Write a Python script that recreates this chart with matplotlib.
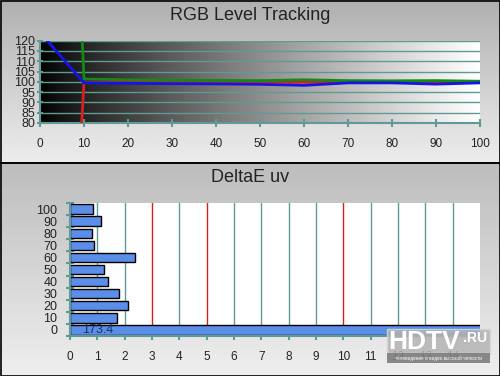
"""RGB level tracking and DeltaE uv panels."""

import matplotlib

matplotlib.use("Agg")
import matplotlib.pyplot as plt  # noqa: E402
import numpy as np  # noqa: E402
from matplotlib.patches import Rectangle  # noqa: E402

plt.rcParams["font.family"] = ["Liberation Sans", "DejaVu Sans"]

# --- data -----------------------------------------------------------------
levels = [0, 10, 20, 30, 40, 50, 60, 70, 80, 90, 100]
red = [-280, 99.6, 100.0, 100.1, 100.0, 99.9, 99.8, 99.8, 99.8, 99.7, 99.8]
green = [575, 101.4, 101.0, 100.8, 100.7, 100.6, 101.0, 100.6, 100.5, 100.6, 100.3]
blue = [124, 99.5, 99.3, 99.1, 99.0, 98.8, 98.3, 99.5, 99.5, 98.9, 99.5]

de_levels = ["0", "10", "20", "30", "40", "50", "60", "70", "80", "90", "100"]
de_values = [173.4, 1.71, 2.11, 1.80, 1.40, 1.26, 2.37, 0.87, 0.79, 1.15, 0.83]
de_limits = [3, 5, 10]

TEAL = "#5f9a94"
W, H = 500, 376


def panel_axes(fig):
    ax = fig.add_axes([0, 0, 1, 1], facecolor="none")
    ax.set_xlim(0, W)
    ax.set_ylim(H, 0)
    ax.axis("off")
    return ax


fig = plt.figure(figsize=(W / 100, H / 100), dpi=100)

# panel backgrounds (light grey fading darker towards the bottom)
bg = panel_axes(fig)
grad = np.linspace(0, 1, 64).reshape(-1, 1)
bg.imshow(grad, extent=[0, W, 163, 0], cmap="gray", vmin=-2.9, vmax=1.3,
          aspect="auto", interpolation="bilinear")
bg.imshow(grad, extent=[0, W, H, 163], cmap="gray", vmin=-3.8, vmax=1.35,
          aspect="auto", interpolation="bilinear")
bg.add_patch(Rectangle((0.5, 0.5), W - 1, 162.5, fill=False, ec="black", lw=1.2))
bg.add_patch(Rectangle((0.5, 163), W - 1, H - 163.5, fill=False, ec="black", lw=1.2))
bg.text(250, 16, "RGB Level Tracking", ha="center", va="center", fontsize=13, color="#222222")
bg.text(250, 177, "DeltaE uv", ha="center", va="center", fontsize=13, color="#222222")

# --- top: RGB level tracking ------------------------------------------------
ax1 = fig.add_axes([40 / W, 1 - 123 / H, 440 / W, 82.3 / H])
shade = np.linspace(0, 1, 256) ** 0.85
ax1.imshow(shade.reshape(1, -1), extent=[0, 100, 80, 120], cmap="gray",
           vmin=0, vmax=1, aspect="auto", interpolation="bilinear", zorder=0)
ax1.set_xlim(0, 100)
ax1.set_ylim(80, 120)
for y in range(85, 121, 5):
    ax1.axhline(y, color=TEAL, lw=1, zorder=1)
ax1.plot(levels, red, color="#d42020", lw=2, zorder=3)
ax1.plot(levels, green, color="#138a13", lw=2, zorder=4)
ax1.plot(levels, blue, color="#1414e6", lw=2, zorder=5)
ax1.set_xticks(range(0, 101, 10))
ax1.set_yticks(range(80, 121, 5))
for s in ["top", "right"]:
    ax1.spines[s].set_visible(False)
for s in ["left", "bottom"]:
    ax1.spines[s].set_color(TEAL)
    ax1.spines[s].set_linewidth(1.5)
ax1.tick_params(axis="x", direction="inout", length=6, width=1.5, color=TEAL,
                labelsize=8.5, labelcolor="#222222", pad=8)
ax1.tick_params(axis="y", direction="inout", length=5, width=1.5, color=TEAL,
                labelsize=9, labelcolor="#222222", pad=1)

# --- bottom: DeltaE uv ------------------------------------------------------
ax2 = fig.add_axes([70 / W, 1 - 336 / H, 410 / W, 133 / H])
ax2.set_facecolor("white")
ax2.set_xlim(0, 15)
ax2.set_ylim(-0.5, 10.5)
for x in range(1, 15):
    ax2.axvline(x, color="#d42020" if x in de_limits else TEAL, lw=1, zorder=1)
ypos = np.arange(len(de_values))
heights = [0.9] + [0.78] * (len(de_values) - 1)
ax2.barh(ypos, de_values, height=heights, color="#5b8ee8", edgecolor="black",
         lw=1, zorder=2)
ax2.text(1.0, 0, f"{de_values[0]:.1f}", ha="center", va="center", fontsize=9,
         color="#1d2f5c", zorder=3)
ax2.set_yticks(ypos)
ax2.set_yticklabels(de_levels)
ax2.set_yticks(np.arange(-0.5, 11, 1), minor=True)
ax2.set_xticks(range(0, 15))
for s in ["top", "right"]:
    ax2.spines[s].set_visible(False)
for s in ["left", "bottom"]:
    ax2.spines[s].set_color(TEAL)
    ax2.spines[s].set_linewidth(1.5)
ax2.tick_params(axis="y", which="major", length=0, labelsize=9,
                labelcolor="#222222", pad=9)
ax2.tick_params(axis="y", which="minor", direction="inout", length=6, width=1.5,
                color=TEAL)
ax2.tick_params(axis="x", direction="inout", length=6, width=1.5, color=TEAL,
                labelsize=8.5, labelcolor="#222222", pad=8)

# --- watermark (drawn over the chart, like the reference) --------------------
logo = panel_axes(fig)
logo.add_patch(Rectangle((387, 329), 103, 24, fc="#b4b4b4", ec="#d8d8d8",
                         lw=1, alpha=0.85))
logo.add_patch(Rectangle((387, 353), 103, 10, fc="#7c7c7c", ec="none", alpha=0.9))
logo.text(424, 342, "HDTV", ha="center", va="center", fontsize=19,
          fontweight="bold", color="white")
logo.text(475, 338, ".RU", ha="center", va="center", fontsize=10,
          fontweight="bold", color="white")
logo.text(438.5, 358.5, "телевидение и видео высокой четкости", ha="center",
          va="center", fontsize=3.3, color="white")

fig.savefig("out.png", dpi=100)
